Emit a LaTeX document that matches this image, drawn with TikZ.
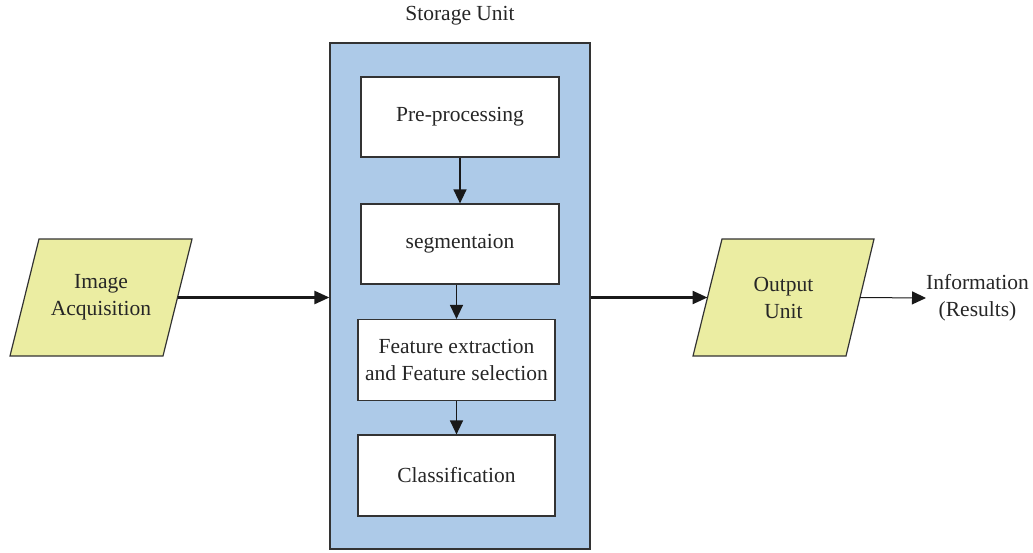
\documentclass[tikz,border=0pt]{standalone}
\usepackage{fontspec}
\setmainfont{Liberation Serif}
\usetikzlibrary{arrows.meta}
\definecolor{storefill}{HTML}{ADCAE8}
\definecolor{iofill}{HTML}{EBEDA2}
\definecolor{edge}{HTML}{333333}
\tikzset{
  every node/.style={font=\fontsize{21.5}{27}\selectfont, text=black!85},
  storebox/.style={draw=edge, line width=1.2pt, fill=storefill, inner sep=0pt},
  stepbox/.style={draw=edge, line width=1.2pt, fill=white, align=center, inner sep=0pt},
  iobox/.style={draw=edge, line width=1.2pt, fill=iofill},
  iotext/.style={align=center, inner sep=0pt},
  flowarrow/.style={draw=black!90, line width=2.4pt, -{Triangle[length=15pt,width=13pt]}},
  steparrow/.style={draw=black!90, line width=1.3pt, -{Triangle[length=14pt,width=13pt]}},
  thinarrow/.style={draw=black!90, line width=1pt, -{Triangle[length=14pt,width=13pt]}}
}
\begin{document}
\begin{tikzpicture}[x=1pt,y=-1pt]
  \useasboundingbox (0,0) rectangle (1033,552);

  % storage unit and its processing steps
  \node[storebox, minimum width=260pt, minimum height=506pt] (su) at (460,296) {};
  \node (sul) at (460,16) {Storage Unit};
  \node[stepbox, minimum width=198pt, minimum height=80pt] (pre) at (460,117) {Pre-processing};
  \node[stepbox, minimum width=198pt, minimum height=80pt] (seg) at (460,244) {segmentaion};
  \node[stepbox, minimum width=197pt, minimum height=81pt] (feat) at (456.5,360) {Feature extraction\\and Feature selection};
  \node[stepbox, minimum width=197pt, minimum height=81pt] (cls) at (456.5,475.5) {Classification};

  \draw[steparrow] (pre.south) -- (seg.north);
  \draw[steparrow] (feat.north |- seg.south) -- (feat.north);
  \draw[steparrow] (feat.south) -- (cls.north);

  % input and output parallelograms
  \path[iobox] (39,239) -- (192,239) -- (163,356) -- (10,356) -- cycle;
  \coordinate (ia-out) at (177.5,297.5);
  \node[iotext] (ia) at (101,297.5) {Image\\Acquisition};

  \path[iobox] (722,239) -- (874,239) -- (846,356) -- (693,356) -- cycle;
  \coordinate (ou-in) at (707.5,297.5);
  \coordinate (ou-out) at (860,297.5);
  \node[iotext] (ou) at (783.5,297.5) {Output\\Unit};

  \node[anchor=west, inner sep=0pt, align=center] (info) at (926,298) {Information\\(Results)};

  \draw[flowarrow] (ia-out) -- (ia-out -| su.west);
  \draw[flowarrow] (ou-in -| su.east) -- (ou-in);
  \draw[thinarrow] (ou-out) -- (info.west);
\end{tikzpicture}
\end{document}
